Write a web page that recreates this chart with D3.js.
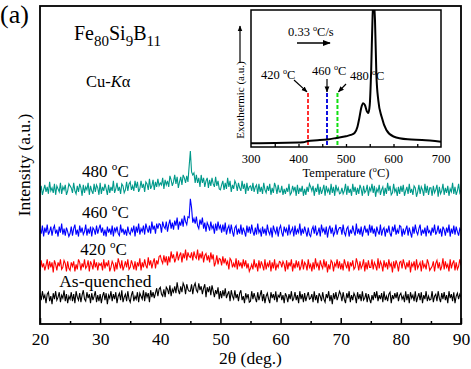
<!DOCTYPE html>
<html><head><meta charset="utf-8">
<script src="https://cdn.jsdelivr.net/npm/d3@7"></script>
<style>
body{margin:0;background:#fff;}
svg text{font-family:"Liberation Serif","DejaVu Serif","Noto Serif",serif;fill:#000;}
</style>
</head><body>
<svg id="c" width="471" height="369" font-family="'Liberation Serif','DejaVu Serif',serif"></svg>
<script>
// ---------- DATA ----------
// 2theta sampling: 20..90 deg, step 0.2 deg (351 points)
const twoThetaStart = 20, twoThetaStep = 0.2;
const asQuenched = [
31,24,33,26,29,21,30,32,23,28,20,31,25,33,24,27,32,22,29,26,34,23,30,21,28,
25,32,23,30,21,33,27,24,31,22,29,34,25,23,32,26,30,21,31,24,28,33,22,29,23,
30,21,28,32,24,31,20,29,26,33,23,30,25,32,21,28,31,24,34,22,27,30,23,33,25,
22,29,33,23,28,25,32,22,31,28,25,34,23,32,27,31,22,34,27,32,26,31,36,28,35,
37,30,28,35,27,37,35,30,39,28,35,32,38,31,42,34,30,38,32,41,38,30,40,35,33,
33,40,30,38,41,34,32,41,34,38,30,36,40,27,37,32,38,29,39,33,27,34,30,37,25,
33,26,34,28,36,26,30,33,23,34,28,25,34,26,30,23,31,34,24,28,21,31,26,30,22,
23,33,25,31,26,22,32,24,29,34,23,30,21,28,31,25,21,32,26,30,24,33,22,29,27,
32,24,29,21,31,28,22,30,25,33,23,26,32,24,29,21,33,25,30,22,31,23,28,32,25,
26,30,22,33,24,29,21,31,28,23,32,25,22,30,26,33,23,29,20,31,25,32,24,28,33,
30,23,32,25,21,31,26,33,22,29,24,31,28,21,32,25,30,23,33,24,26,31,22,30,25,
21,29,24,32,26,33,23,29,25,31,22,33,24,28,23,30,32,21,29,25,31,26,32,23,29,
31,25,28,22,33,24,30,21,32,26,29,23,33,22,27,31,24,32,21,29,25,33,23,28,24,
25,33,22,28,30,23,33,26,22,31,25,32,24,29,21,33,26,30,23,32,21,28,31,25,30,
27];
const annealed420 = [
53,64,57,61,54,59,65,55,63,57,62,52,64,60,54,62,58,65,55,57,64,61,53,63,56,
54,62,58,63,53,60,55,65,62,54,61,57,65,56,58,64,53,63,60,55,65,57,62,54,61,
59,61,54,65,56,62,58,64,53,57,63,60,53,62,55,66,61,56,64,54,58,63,57,65,55,
57,64,60,55,63,54,62,58,66,54,62,57,65,59,56,67,59,64,56,62,66,56,64,60,68,
69,64,61,69,62,68,59,68,62,73,66,70,62,66,73,64,69,72,62,71,66,75,64,72,68,
67,72,64,73,68,66,75,64,71,66,73,62,69,71,64,69,62,72,65,70,58,62,69,60,66,
65,59,68,61,66,60,63,55,66,64,57,61,57,66,55,64,58,62,56,65,58,64,56,61,53,
56,60,55,65,57,61,53,64,56,63,59,54,65,55,61,58,64,53,62,56,65,54,60,57,63,
62,57,63,60,53,64,55,62,58,65,53,61,56,64,57,63,54,58,65,55,62,60,54,65,57,
60,53,62,55,66,58,61,54,64,59,56,65,57,63,52,60,55,64,62,53,61,58,65,56,63,
55,61,54,65,60,56,63,53,62,58,64,55,57,66,61,54,63,56,59,65,53,62,55,64,57,
57,65,55,62,59,54,66,56,63,60,53,64,57,62,55,65,58,61,52,63,56,64,60,53,62,
63,56,65,60,55,62,57,64,52,61,58,63,54,65,56,59,62,53,64,57,60,55,65,61,54,
56,58,63,53,61,64,56,62,54,58,66,55,63,57,60,53,65,56,61,64,54,62,55,58,65,
59];
const annealed460 = [
95,91,99,88,97,92,100,90,93,98,89,96,99,91,95,88,98,92,101,90,96,89,97,93,88,
91,98,89,96,100,90,95,88,99,92,97,90,93,100,89,96,91,98,88,97,95,90,99,91,96,
100,92,97,89,95,88,98,92,96,90,99,88,97,93,98,91,89,100,92,96,90,95,89,98,92,
90,96,93,99,88,98,92,101,90,96,93,99,90,101,96,92,99,91,103,95,99,91,101,96,101,
100,92,103,98,96,103,93,100,105,96,102,95,104,99,107,95,103,99,106,98,109,103,100,108,107,
126,117,102,106,101,108,99,96,105,100,107,96,102,93,102,99,94,103,96,99,91,101,94,103,96,
99,92,100,93,102,90,96,99,91,100,93,88,97,99,90,96,91,100,90,97,93,88,99,92,98,
91,100,93,89,97,90,101,92,95,88,98,91,96,89,100,93,90,97,87,99,94,91,98,88,96,
99,92,88,98,93,96,89,100,91,94,97,88,99,90,95,92,101,89,96,91,98,93,88,97,90,
88,95,98,91,99,89,92,97,88,100,93,96,90,98,87,95,99,91,97,89,92,100,90,95,97,
97,90,100,92,89,96,98,88,95,91,99,93,89,101,91,96,90,98,88,94,99,92,96,89,100,
92,99,91,96,88,98,93,90,100,89,95,97,88,96,92,99,91,88,98,93,100,90,95,91,99,
98,88,96,90,95,99,89,97,92,87,98,91,100,93,90,96,100,89,95,91,97,88,99,92,94,
89,97,92,100,90,93,99,91,96,88,98,95,89,97,92,100,88,96,91,99,90,98,93,89,96,
94];
const annealed480 = [
132,139,130,135,140,133,138,131,143,134,137,132,141,130,139,136,133,142,131,138,135,140,130,134,141,
139,137,132,142,134,131,139,133,141,137,129,140,132,138,135,142,130,139,134,131,141,133,140,137,130,
142,131,138,134,141,136,130,140,132,138,134,144,132,136,142,134,138,131,141,139,132,135,143,134,141,
143,135,139,134,144,137,143,133,136,144,137,141,133,143,141,135,146,136,139,145,135,143,138,146,139,
142,140,147,136,145,140,144,138,149,145,139,143,150,141,148,137,143,148,140,150,147,142,149,143,159,
174,153,150,152,142,150,142,147,138,150,142,147,138,144,147,137,145,139,147,141,138,148,139,144,136,
135,140,144,135,142,136,147,138,144,133,140,136,144,141,134,142,137,134,144,136,141,131,142,134,138,
139,134,142,133,138,140,131,141,133,138,131,142,135,132,139,134,141,130,137,132,142,138,131,140,133,
133,139,130,136,131,137,133,141,130,132,139,134,138,129,140,131,137,133,139,129,136,130,138,133,141,
138,134,139,129,137,133,141,130,138,131,135,140,129,139,133,136,130,141,132,138,129,140,134,137,131,
132,137,131,134,141,130,139,132,136,129,141,133,138,130,137,131,140,136,129,139,132,134,140,129,137,
134,141,132,139,128,136,133,140,130,135,138,129,137,131,142,134,139,130,132,141,133,136,129,138,131,
139,133,140,129,134,138,131,141,132,136,130,139,137,128,133,140,131,138,135,129,141,132,139,130,137,
137,129,139,132,135,140,128,138,131,134,141,130,137,132,139,129,136,133,142,131,138,130,134,141,132,
135];
const seriesNames = ["As-quenched", "420", "460", "480"];
const seriesColors = ["#000000", "#ff0000", "#0000ff", "#00998a"];
const xTicks = [20, 30, 40, 50, 60, 70, 80, 90];
const xMinorTicks = [25, 35, 45, 55, 65, 75, 85];

// DSC inset
const dscTemp = [300,350,400,410,420,440,460,480,500,510,518,524,528,532,536,540,544,547,550,553,556,558,561,564,568,575,585,600,630,660,700];
const dscHeat = [2.7,2.9,3.3,3.4,4.4,4.9,5.5,6.6,7.8,8.8,10.2,14.6,21,28.5,32,30.5,26,24.8,30.7,56,96,107,93,52.5,34,22,12.4,7.7,5.6,5.1,3.9];
const annealTemps = [420, 460, 482];
const annealLabels = ["420", "460", "480"];
const annealColors = ["#ff3030", "#1010e0", "#10e010"];
const insetTicks = [300, 400, 500, 600, 700];
const insetMinorTicks = [350, 400, 450, 500, 550, 600, 650];

// ---------- CHART ----------
const FONT = "'Liberation Serif','DejaVu Serif',serif";
const svg = d3.select("#c");
const M = {l: 40, r: 461, t: 6, b: 324};
const x = d3.scaleLinear([20, 90], [M.l, M.r]);
const y = d3.scaleLinear([0, 320], [M.b, M.t]);

svg.append("defs").html(`
 <clipPath id="plotclip"><rect x="${M.l}" y="${M.t}" width="${M.r-M.l}" height="${M.b-M.t}"/></clipPath>
 <clipPath id="insetclip"><rect x="251" y="10" width="190" height="137"/></clipPath>
 <marker id="ah" viewBox="0 0 10 10" refX="9" refY="5" markerWidth="5" markerHeight="5" orient="auto"><path d="M0,1 L10,5 L0,9 z" fill="#000"/></marker>
`);

const allSeries = [asQuenched, annealed420, annealed460, annealed480];
const line = d3.line().x((d, i) => x(twoThetaStart + twoThetaStep * i)).y(d => y(d));
const gCurves = svg.append("g").attr("clip-path", "url(#plotclip)");
allSeries.forEach((s, k) => {
  gCurves.append("path").attr("d", line(s)).attr("fill", "none")
    .attr("stroke", seriesColors[k]).attr("stroke-width", 1.1).attr("stroke-linejoin", "miter");
});

// axes
const ax = svg.append("g").attr("transform", `translate(0,${M.b})`)
  .call(d3.axisBottom(x).tickValues(xTicks).tickSizeInner(-6).tickSizeOuter(0).tickPadding(9).tickFormat(d3.format("d")));
ax.attr("font-family", FONT);
ax.select(".domain").remove();
ax.selectAll("line").attr("stroke", "#000").attr("stroke-width", 1.5);
ax.selectAll("text").attr("font-size", 17.5).attr("font-family", FONT).attr("fill", "#000");
const axm = svg.append("g").attr("transform", `translate(0,${M.b})`)
  .call(d3.axisBottom(x).tickValues(xMinorTicks).tickSizeInner(-3).tickSizeOuter(0).tickFormat(""));
axm.select(".domain").remove();
axm.selectAll("line").attr("stroke", "#000").attr("stroke-width", 1.5);

svg.append("rect").attr("x", M.l).attr("y", M.t).attr("width", M.r - M.l).attr("height", M.b - M.t)
  .attr("fill", "none").attr("stroke", "#000").attr("stroke-width", 1.8);

// rich text helper
function rich(g, xx, yy, parts, size, anchor, subScale) {
  const t = g.append("text").attr("x", xx).attr("y", yy).attr("font-size", size)
    .attr("font-family", FONT).attr("text-anchor", anchor || "start");
  let shift = 0;
  parts.forEach(p => {
    const [str, kind] = p;
    let target = 0, fs = size;
    if (kind === "sup") { target = -0.42 * size; fs = size * 0.65; }
    if (kind === "sub") { target = 0.3 * size; fs = size * (subScale || 0.7); }
    const ts = t.append("tspan").text(str).attr("dy", target - shift).attr("font-size", fs);
    if (kind === "i") ts.attr("font-style", "italic");
    shift = target;
  });
  return t;
}

// axis titles
svg.append("text").attr("x", (M.l + M.r) / 2).attr("y", 364).attr("text-anchor", "middle")
  .attr("font-family", FONT).attr("font-size", 17.5).text("2θ (deg.)");
svg.append("text").attr("transform", "translate(30,165) rotate(-90)").attr("text-anchor", "middle")
  .attr("font-family", FONT).attr("font-size", 17.5).text("Intensity (a.u.)");
svg.append("text").attr("x", 0).attr("y", 23).attr("font-family", FONT).attr("font-size", 26).text("(a)");

rich(svg, 74, 40, [["Fe"], ["80", "sub"], ["Si"], ["9", "sub"], ["B"], ["11", "sub"]], 20, "start", 0.75);
rich(svg, 86, 87, [["Cu-"], ["K", "i"], ["α"]], 16.5);

// series labels
rich(svg, x(27), 177, [["480 "], ["o", "sup"], ["C"]], 17);
rich(svg, x(27), 218, [["460 "], ["o", "sup"], ["C"]], 17);
rich(svg, x(26.7), 255, [["420 "], ["o", "sup"], ["C"]], 17);
svg.append("text").attr("x", x(23.2)).attr("y", 287).attr("font-family", FONT).attr("font-size", 17.5).text(seriesNames[0]);

// ---------- INSET ----------
const xi = d3.scaleLinear([300, 700], [251, 441]);
const yi = d3.scaleLinear([0, 100], [147, 10]);
const gi = svg.append("g");
gi.append("rect").attr("x", 251).attr("y", 10).attr("width", 190).attr("height", 137).attr("fill", "#fff");

const iax = gi.append("g").attr("transform", "translate(0,147)")
  .call(d3.axisBottom(xi).tickValues(insetMinorTicks).tickSizeInner(-3).tickSizeOuter(0).tickFormat(""));
iax.select(".domain").remove();
iax.selectAll("line").attr("stroke", "#000").attr("stroke-width", 1.3);
insetTicks.forEach(t => {
  gi.append("text").attr("x", xi(t)).attr("y", 163).attr("text-anchor", "middle")
    .attr("font-family", FONT).attr("font-size", 12.5).text(t);
});
rich(gi, 346, 177, [["Temperature ("], ["o", "sup"], ["C)"]], 12.5, "middle");

// dashed annealing lines
const dashTop = 39.5;
annealTemps.forEach((t, k) => {
  gi.append("line").attr("x1", xi(t)).attr("x2", xi(t)).attr("y1", yi(dashTop)).attr("y2", yi(0))
    .attr("stroke", annealColors[k]).attr("stroke-width", 2).attr("stroke-dasharray", "4,2");
});

// DSC curve
gi.append("path").attr("clip-path", "url(#insetclip)")
  .attr("d", d3.line().x((d, i) => xi(dscTemp[i])).y(d => yi(d)).curve(d3.curveMonotoneX)(dscHeat))
  .attr("fill", "none").attr("stroke", "#000").attr("stroke-width", 2);

gi.append("rect").attr("x", 251).attr("y", 10).attr("width", 190).attr("height", 137)
  .attr("fill", "none").attr("stroke", "#000").attr("stroke-width", 1.5);

// annotations
rich(gi, 261, 79, [[annealLabels[0] + " "], ["o", "sup"], ["C"]], 12.5);
rich(gi, 312, 75, [[annealLabels[1] + " "], ["o", "sup"], ["C"]], 12.5);
rich(gi, 350, 80, [[annealLabels[2] + " "], ["o", "sup"], ["C"]], 12.5);
const arr = (x1, y1, x2, y2, w) => gi.append("line").attr("x1", x1).attr("y1", y1).attr("x2", x2).attr("y2", y2)
  .attr("stroke", "#000").attr("stroke-width", w || 1.2).attr("marker-end", "url(#ah)");
arr(294, 80, xi(annealTemps[0]) - 1, yi(dashTop) - 1);
arr(xi(annealTemps[1]), 79, xi(annealTemps[1]), yi(dashTop) - 1);
arr(346, 84, xi(annealTemps[2]) + 1, yi(dashTop) - 1);

rich(gi, 288, 36, [["0.33 "], ["o", "sup"], ["C/s"]], 12.5);
arr(297, 43, 330, 43, 1.6);

svg.append("text").attr("transform", "translate(244,100) rotate(-90)").attr("text-anchor", "middle")
  .attr("font-family", FONT).attr("font-size", 11).text("Exothermic (a.u.)");
arr(240, 63, 240, 26, 1.2);
</script>
</body></html>
